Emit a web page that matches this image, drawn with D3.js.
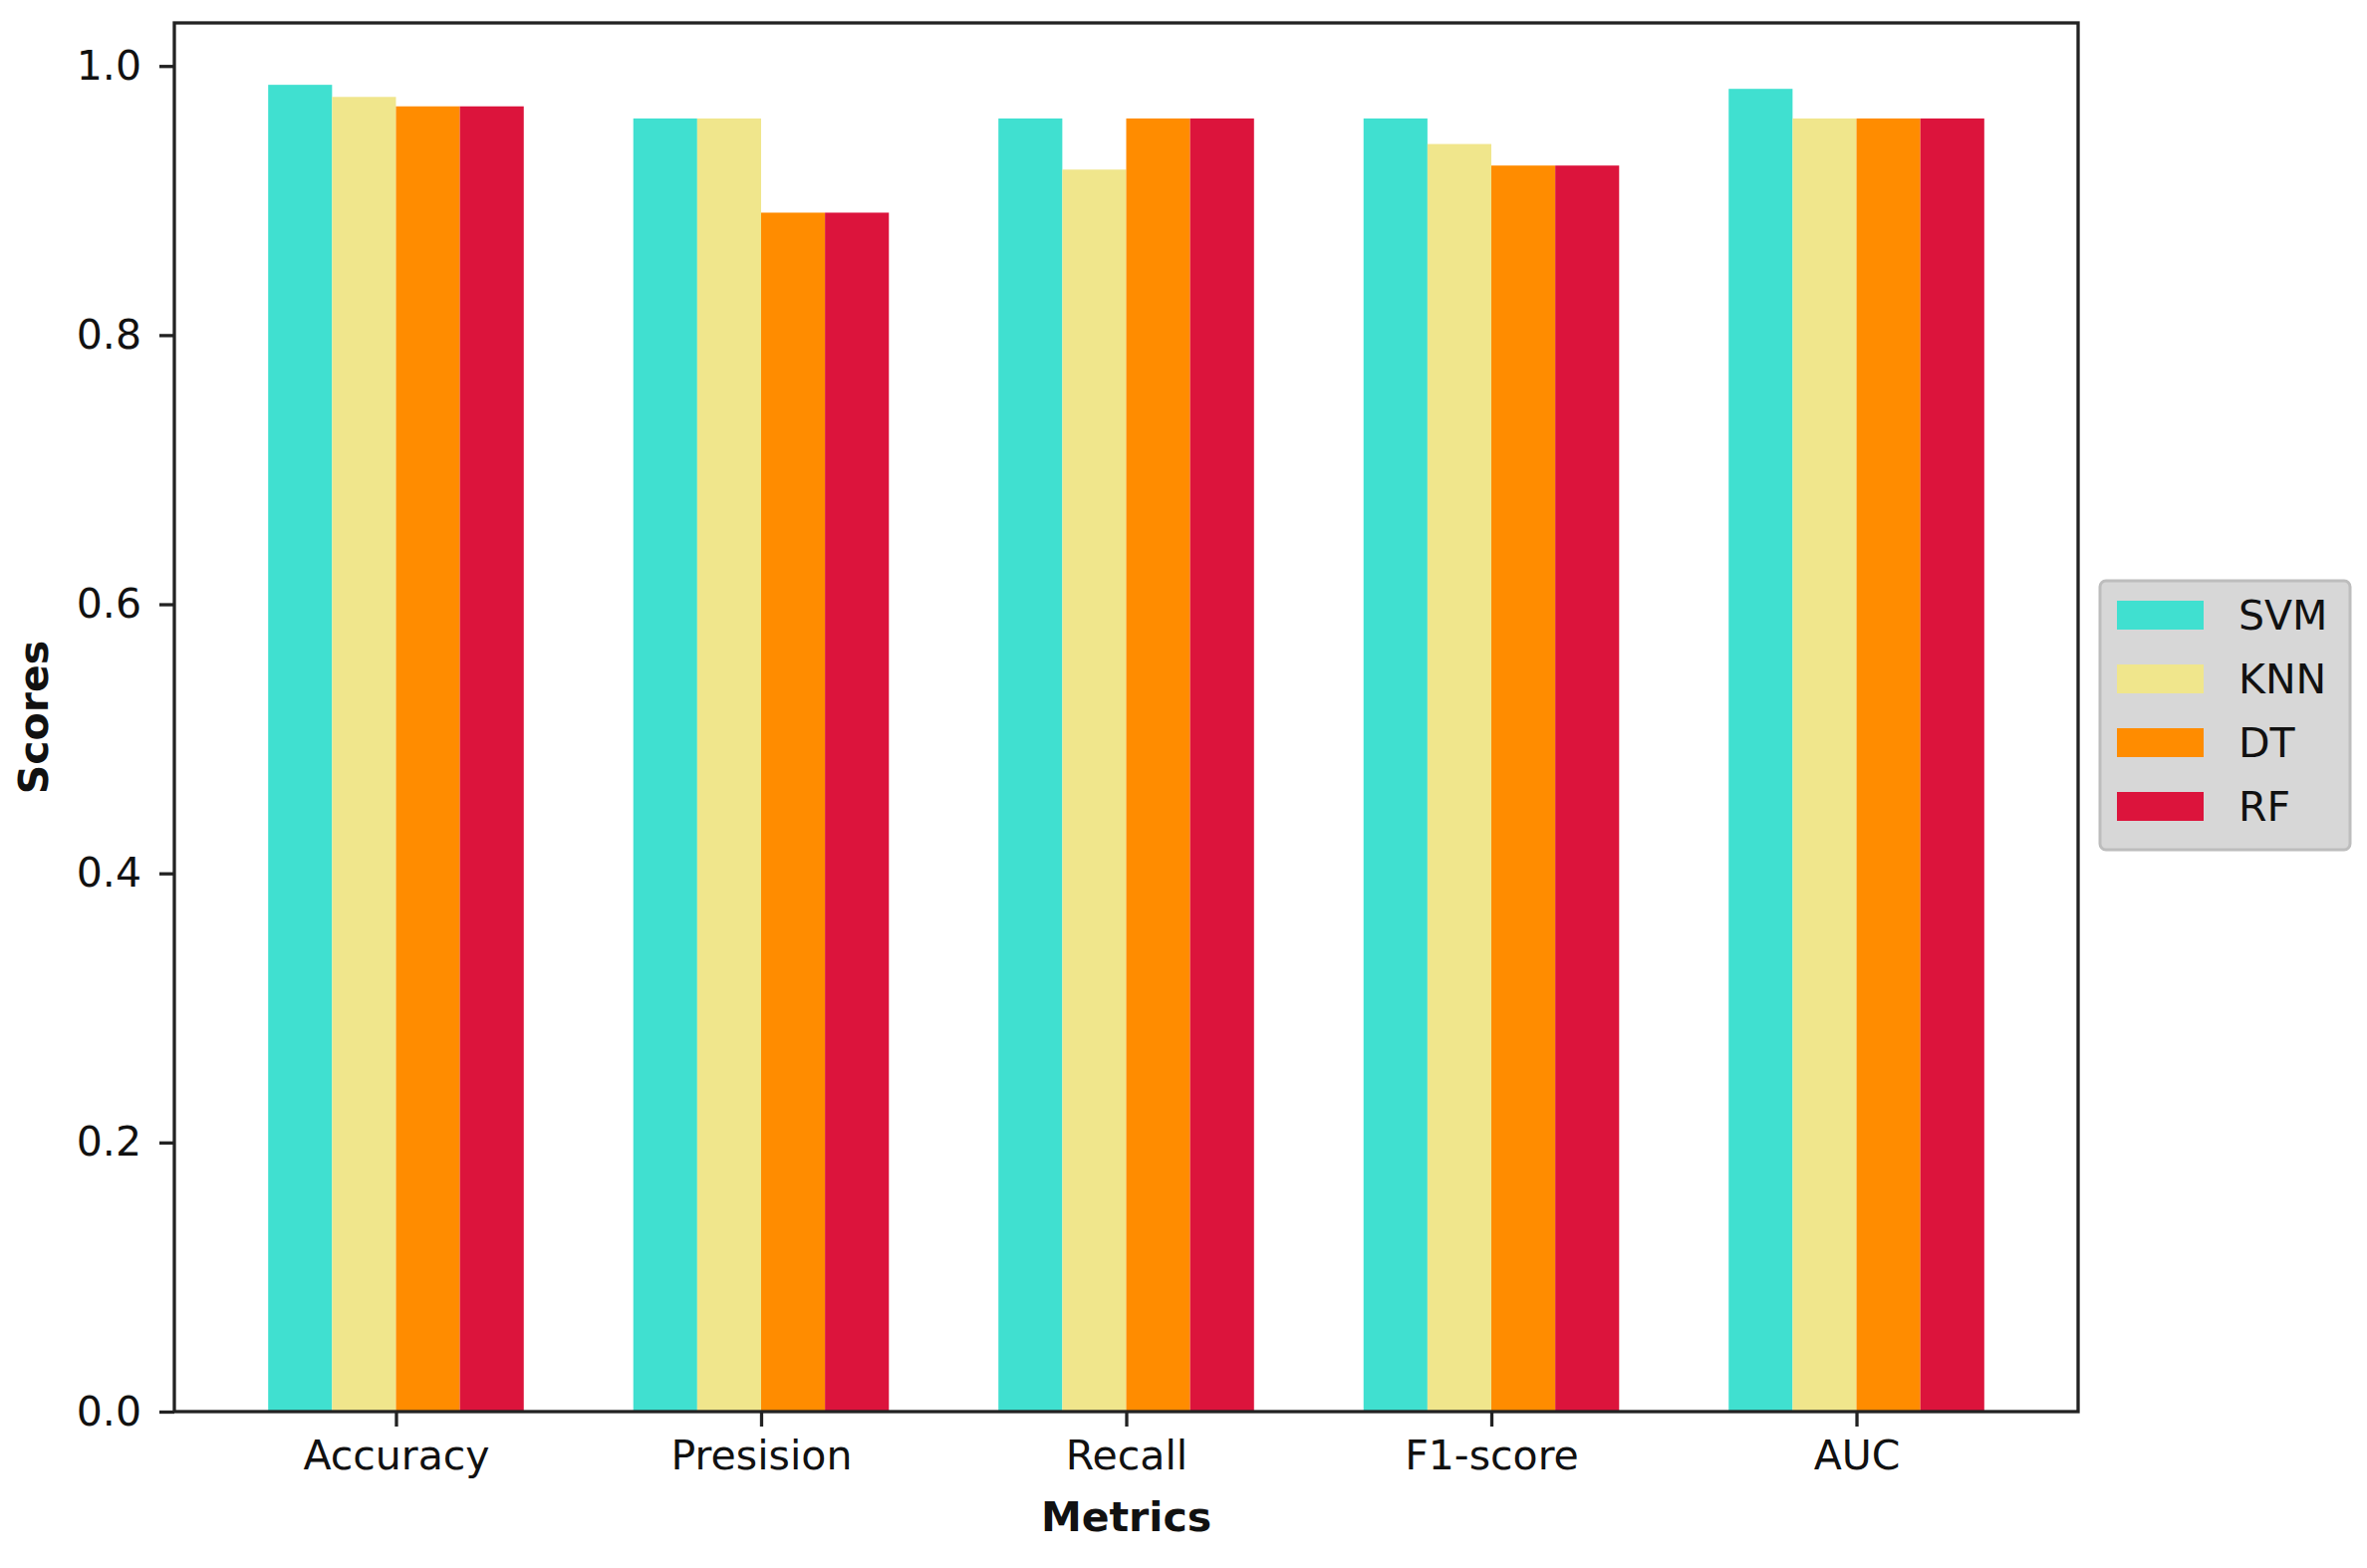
<!DOCTYPE html>
<html><head><meta charset="utf-8">
<script src="https://cdn.jsdelivr.net/npm/d3@7"></script>
<style>html,body{margin:0;padding:0;background:#fff;}svg{display:block;font-family:"DejaVu Sans",sans-serif;}</style>
</head><body>
<svg id="c" width="2376" height="1574"></svg>
<script>
const categories = ["Accuracy", "Presision", "Recall", "F1-score", "AUC"];
const models = ["SVM", "KNN", "DT", "RF"];
const colors = ["#40E0D0", "#F0E68C", "#FF8C00", "#DC143C"];
const svmScores = [0.986, 0.961, 0.961, 0.961, 0.983];
const knnScores = [0.977, 0.961, 0.923, 0.942, 0.961];
const dtScores  = [0.970, 0.891, 0.961, 0.926, 0.961];
const rfScores  = [0.970, 0.891, 0.961, 0.926, 0.961];
const yTicks = [0.0, 0.2, 0.4, 0.6, 0.8, 1.0];
const xLabel = "Metrics", yLabel = "Scores";

const series = [svmScores, knnScores, dtScores, rfScores];
const barW = 0.175;

const L = 175, R = 2086, T = 23, B = 1417;
const svg = d3.select("#c");
const x = d3.scaleLinear().domain([-0.607, 4.607]).range([L, R]);
const y = d3.scaleLinear().domain([0, 1.032]).range([B, T]);

// bars
series.forEach((vals, si) => {
  svg.append("g").selectAll("rect").data(vals).join("rect")
    .attr("x", (d, i) => x(i + (si - 2) * barW))
    .attr("width", (d, i) => x(i + (si - 1) * barW) - x(i + (si - 2) * barW))
    .attr("y", d => y(d))
    .attr("height", d => y(0) - y(d))
    .attr("fill", colors[si]);
});

const fs = 41;
// y axis
const yAxis = d3.axisLeft(y).tickValues(yTicks).tickFormat(d3.format(".1f")).tickSize(15).tickPadding(18);
const gy = svg.append("g").attr("transform", `translate(${L},0)`).call(yAxis);
// x axis
const xAxis = d3.axisBottom(x).tickValues(d3.range(categories.length)).tickFormat(i => categories[i]).tickSize(15).tickPadding(14);
const gx = svg.append("g").attr("transform", `translate(0,${B})`).call(xAxis);
[gy, gx].forEach(g => {
  g.select(".domain").remove();
  g.selectAll(".tick line").attr("stroke", "#222").attr("stroke-width", 3.3);
  g.selectAll(".tick text").attr("font-size", fs).attr("fill", "#111").attr("font-family", "DejaVu Sans");
});
gx.selectAll(".tick text").attr("dy", "0.71em");

// frame
svg.append("rect").attr("x", L).attr("y", T).attr("width", R - L).attr("height", B - T)
  .attr("fill", "none").attr("stroke", "#222").attr("stroke-width", 3.3);

// axis labels
svg.append("text").attr("x", (L + R) / 2).attr("y", 1537).attr("text-anchor", "middle")
  .attr("font-size", fs).attr("font-weight", "bold").attr("fill", "#111").text(xLabel);
svg.append("text").attr("transform", `translate(48,${(T + B) / 2}) rotate(-90)`).attr("text-anchor", "middle")
  .attr("font-size", fs).attr("font-weight", "bold").attr("fill", "#111").text(yLabel);

// legend
const lg = svg.append("g");
lg.append("rect").attr("x", 2108).attr("y", 583).attr("width", 251).attr("height", 270).attr("rx", 6)
  .attr("fill", "#d7d7d7").attr("stroke", "#bdbdbd").attr("stroke-width", 3);
models.forEach((m, i) => {
  const cy = 617.5 + i * 64;
  lg.append("rect").attr("x", 2125).attr("y", cy - 14.5).attr("width", 87).attr("height", 29).attr("fill", colors[i]);
  lg.append("text").attr("x", 2247).attr("y", cy).attr("dy", "0.36em").attr("font-size", fs).attr("fill", "#111").text(m);
});
</script>
</body></html>
